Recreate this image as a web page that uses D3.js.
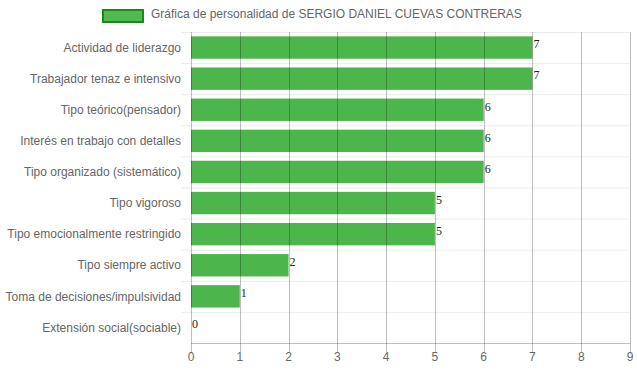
<!DOCTYPE html>
<html>
<head>
<meta charset="utf-8">
<script src="https://cdn.jsdelivr.net/npm/d3@7"></script>
<style>
  body { margin: 0; background: #fff; }
  text { font-family: "Liberation Sans", Arial, sans-serif; }
</style>
</head>
<body>
<div id="chart"></div>
<script>
const categories = [
  'Actividad de liderazgo',
  'Trabajador tenaz e intensivo',
  'Tipo teórico(pensador)',
  'Interés en trabajo con detalles',
  'Tipo organizado (sistemático)',
  'Tipo vigoroso',
  'Tipo emocionalmente restringido',
  'Tipo siempre activo',
  'Toma de decisiones/impulsividad',
  'Extensión social(sociable)'
];
const values = [7, 7, 6, 6, 6, 5, 5, 2, 1, 0];
const xTicks = [0, 1, 2, 3, 4, 5, 6, 7, 8, 9];
const seriesLabel = 'Gráfica de personalidad de SERGIO DANIEL CUEVAS CONTRERAS';

const data = categories.map((c, i) => ({ category: c, value: values[i] }));

const margin = { top: 32, right: 7, bottom: 28, left: 191 },
      width = 637 - margin.left - margin.right,
      height = 371 - margin.top - margin.bottom;

const xScale = d3.scaleLinear()
      .domain([0, 9])
      .range([0, width]);

const yScale = d3.scaleBand()
      .domain(categories)
      .range([0, height]);

const barHeight = yScale.bandwidth() * 0.72;

const svg = d3.select('#chart').append('svg')
      .attr('width', 637)
      .attr('height', 371);

// legend
const legend = svg.append('g');
legend.append('rect')
      .attr('x', 103)
      .attr('y', 10)
      .attr('width', 40)
      .attr('height', 12)
      .style('fill', '#52b852')
      .style('stroke', '#138f13')
      .style('stroke-width', 2);
legend.append('text')
      .attr('x', 151)
      .attr('y', 14)
      .attr('dy', '0.35em')
      .style('font-size', '12px')
      .style('fill', '#666')
      .text(seriesLabel);

const wrapper = svg.append('g')
      .attr('transform', 'translate(' + margin.left + ',' + margin.top + ')');

// bars
wrapper.append('g')
    .selectAll('rect')
    .data(data)
  .enter().append('rect')
    .attr('x', xScale(0))
    .attr('y', d => yScale(d.category) + (yScale.bandwidth() - barHeight) / 2)
    .attr('width', d => xScale(d.value) - xScale(0))
    .attr('height', barHeight)
    .style('fill', '#4cb64c');

// horizontal (category) grid lines
wrapper.append('g')
    .selectAll('line')
    .data(categories)
  .enter().append('line')
    .attr('x1', -10)
    .attr('x2', width)
    .attr('y1', d => yScale(d) + 0.5)
    .attr('y2', d => yScale(d) + 0.5)
    .style('stroke', 'rgba(0,0,0,0.08)')
    .style('stroke-width', 1);

// vertical grid lines (drawn over the bars, semi-transparent)
wrapper.append('g')
    .selectAll('line')
    .data(xTicks)
  .enter().append('line')
    .attr('x1', d => Math.round(xScale(d)) + 0.5)
    .attr('x2', d => Math.round(xScale(d)) + 0.5)
    .attr('y1', 0)
    .attr('y2', height + 9)
    .style('stroke', 'rgba(0,0,0,0.25)')
    .style('stroke-width', 1);

// bottom axis line
wrapper.append('line')
    .attr('x1', 0)
    .attr('x2', width)
    .attr('y1', height + 0.5)
    .attr('y2', height + 0.5)
    .style('stroke', 'rgba(0,0,0,0.25)');

// value labels
wrapper.append('g')
    .selectAll('text')
    .data(data)
  .enter().append('text')
    .attr('x', d => xScale(d.value) + 1)
    .attr('y', d => yScale(d.category) + (yScale.bandwidth() - barHeight) / 2 + 12)
    .style('font-family', '"Liberation Serif", "Times New Roman", serif')
    .style('font-size', '12px')
    .style('fill', '#222')
    .text(d => d.value);

// category labels
wrapper.append('g')
    .selectAll('text')
    .data(categories)
  .enter().append('text')
    .attr('x', -10)
    .attr('y', d => yScale(d) + yScale.bandwidth() / 2)
    .attr('dy', '0.35em')
    .attr('text-anchor', 'end')
    .style('font-size', '12px')
    .style('fill', '#666')
    .text(d => d);

// x tick labels
wrapper.append('g')
    .selectAll('text')
    .data(xTicks)
  .enter().append('text')
    .attr('x', d => xScale(d))
    .attr('y', height + 14)
    .attr('dy', '0.35em')
    .attr('text-anchor', 'middle')
    .style('font-size', '12px')
    .style('fill', '#666')
    .text(d => d);
</script>
</body>
</html>
